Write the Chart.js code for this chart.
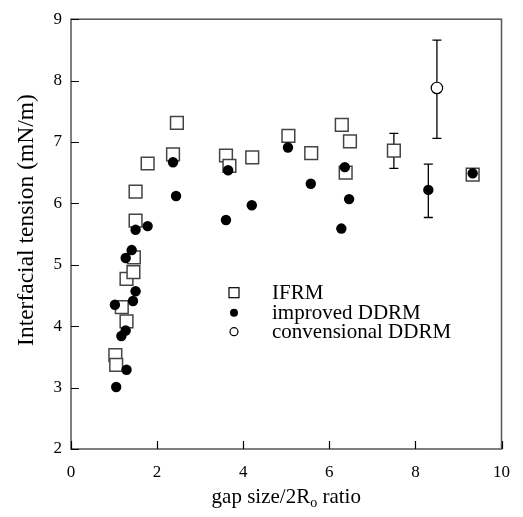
<!DOCTYPE html>
<html><head><meta charset="utf-8">
<script src="https://cdn.jsdelivr.net/npm/chart.js@4/dist/chart.umd.min.js"></script>
<style>html,body{margin:0;padding:0;background:#fff;}</style>
</head><body>
<canvas id="c" width="523" height="517"></canvas>
<script>
// ---- data ----
const ifrmX = [1.03, 1.05, 1.29, 1.18, 1.29, 1.45, 1.46, 1.50, 1.50, 1.78, 2.37, 2.46, 3.60, 3.68, 4.21, 5.05, 5.58, 6.29, 6.48, 6.38, 7.50, 9.33];
const ifrmY = [3.53, 3.37, 4.08, 4.31, 4.77, 4.88, 5.12, 5.72, 6.19, 6.65, 6.80, 7.31, 6.78, 6.61, 6.75, 7.10, 6.82, 7.28, 7.01, 6.50, 6.86, 6.47];
const impX = [1.05, 1.29, 1.17, 1.27, 1.02, 1.44, 1.50, 1.27, 1.41, 1.50, 1.78, 2.37, 2.44, 3.60, 3.65, 4.20, 5.04, 5.57, 6.28, 6.36, 6.46, 8.30, 9.33];
const impY = [3.01, 3.29, 3.84, 3.93, 4.35, 4.41, 4.57, 5.11, 5.24, 5.57, 5.63, 6.67, 6.12, 5.73, 6.54, 5.97, 6.91, 6.32, 5.59, 6.59, 6.07, 6.22, 6.49];
const convX = [8.50];
const convY = [7.88];
// error bars
const errX = [7.50, 8.30, 8.50];
const errLow = [6.57, 5.77, 7.06];
const errHigh = [7.14, 6.64, 8.66];
// axis ticks
const xTicks = [0, 2, 4, 6, 8, 10];
const yTicks = [2, 3, 4, 5, 6, 7, 8, 9];
const legendLabels = ['IFRM', 'improved DDRM', 'convensional DDRM'];

const SERIF = '"Liberation Serif", "Times New Roman", serif';
const pts = (xs, ys) => xs.map((x, i) => ({x: x, y: ys[i]}));

const decoPlugin = {
  id: 'deco',
  beforeDatasetsDraw(chart) {
    const c = chart.ctx, xs = chart.scales.x, ys = chart.scales.y;
    c.save();
    c.strokeStyle = '#000';
    c.lineWidth = 1.3;
    for (let i = 0; i < errX.length; i++) {
      const px = xs.getPixelForValue(errX[i]);
      const p1 = ys.getPixelForValue(errLow[i]);
      const p2 = ys.getPixelForValue(errHigh[i]);
      c.beginPath();
      c.moveTo(px, p1); c.lineTo(px, p2);
      c.moveTo(px - 4.5, p1); c.lineTo(px + 4.5, p1);
      c.moveTo(px - 4.5, p2); c.lineTo(px + 4.5, p2);
      c.stroke();
    }
    c.restore();
  },
  afterDraw(chart) {
    const c = chart.ctx, a = chart.chartArea, xs = chart.scales.x, ys = chart.scales.y;
    c.save();
    // frame
    c.strokeStyle = '#555';
    c.lineWidth = 1.5;
    c.strokeRect(a.left, a.top, a.right - a.left, a.bottom - a.top);
    // inward ticks
    c.strokeStyle = '#000';
    c.lineWidth = 1.2;
    c.beginPath();
    yTicks.forEach(v => {
      const py = Math.round(ys.getPixelForValue(v)) + 0.5;
      c.moveTo(a.left, py); c.lineTo(a.left + 8, py);
    });
    xTicks.forEach(v => {
      const px = Math.round(xs.getPixelForValue(v)) + 0.5;
      c.moveTo(px, a.bottom); c.lineTo(px, a.bottom - 8);
    });
    c.stroke();

    // x title with subscript
    c.fillStyle = '#000';
    c.textBaseline = 'alphabetic';
    c.font = '21px ' + SERIF;
    const t1 = 'gap size/2R', t3 = ' ratio';
    const w1 = c.measureText(t1).width, w3 = c.measureText(t3).width;
    c.font = '14px ' + SERIF;
    const w2 = c.measureText('o').width;
    const cx = (a.left + a.right) / 2;
    let sx = cx - (w1 + w2 + w3) / 2;
    const by = 503;
    c.font = '21px ' + SERIF;
    c.textAlign = 'left';
    c.fillText(t1, sx, by);
    c.font = '14px ' + SERIF;
    c.fillText('o', sx + w1, by + 4);
    c.font = '21px ' + SERIF;
    c.fillText(t3, sx + w1 + w2, by);

    // y title
    c.save();
    c.translate(33, 220);
    c.rotate(-Math.PI / 2);
    c.textAlign = 'center';
    c.font = '23.5px ' + SERIF;
    c.fillText('Interfacial tension (mN/m)', 0, 0);
    c.restore();

    // legend
    const lx = 234, rows = [292.7, 312.7, 331.7];
    c.lineWidth = 1.2;
    c.strokeStyle = '#000';
    c.strokeRect(lx - 5, rows[0] - 5, 10, 10);
    c.beginPath(); c.arc(lx, rows[1], 4, 0, Math.PI * 2); c.fillStyle = '#000'; c.fill();
    c.beginPath(); c.arc(lx, rows[2], 4, 0, Math.PI * 2); c.fillStyle = '#fff'; c.fill(); c.stroke();
    c.fillStyle = '#000';
    c.font = '21px ' + SERIF;
    c.textAlign = 'left';
    c.textBaseline = 'middle';
    legendLabels.forEach((t, i) => c.fillText(t, 272, rows[i] + 1));
    c.restore();
  }
};

new Chart(document.getElementById('c'), {
  type: 'scatter',
  data: {
    datasets: [
      {label: legendLabels[0], data: pts(ifrmX, ifrmY), pointStyle: 'rect', pointRadius: 9,
       pointBackgroundColor: '#fff', pointBorderColor: '#444', pointBorderWidth: 1.5, order: 2},
      {label: legendLabels[1], data: pts(impX, impY), pointStyle: 'circle', pointRadius: 5.2,
       pointBackgroundColor: '#000', pointBorderColor: '#000', pointBorderWidth: 0, order: 1},
      {label: legendLabels[2], data: pts(convX, convY), pointStyle: 'circle', pointRadius: 5.7,
       pointBackgroundColor: '#fff', pointBorderColor: '#000', pointBorderWidth: 1.2, order: 0}
    ]
  },
  options: {
    responsive: false,
    animation: false,
    devicePixelRatio: 1,
    layout: {padding: {left: 0, right: 15, top: 12, bottom: 0}},
    plugins: {legend: {display: false}, tooltip: {enabled: false}},
    scales: {
      x: {
        type: 'linear', min: 0, max: 10,
        afterBuildTicks(s) { s.ticks = xTicks.map(v => ({value: v})); },
        ticks: {color: '#000', font: {family: SERIF, size: 17}, padding: 13, maxRotation: 0},
        grid: {display: false, drawTicks: false},
        border: {display: false},
        afterFit(s) { s.height = 517 - 449; }
      },
      y: {
        type: 'linear', min: 2, max: 9,
        afterBuildTicks(s) { s.ticks = yTicks.map(v => ({value: v})); },
        ticks: {color: '#000', font: {family: SERIF, size: 17}, padding: 9},
        grid: {display: false, drawTicks: false},
        border: {display: false},
        afterFit(s) { s.width = 71; }
      }
    }
  },
  plugins: [decoPlugin]
});
</script>
</body></html>
